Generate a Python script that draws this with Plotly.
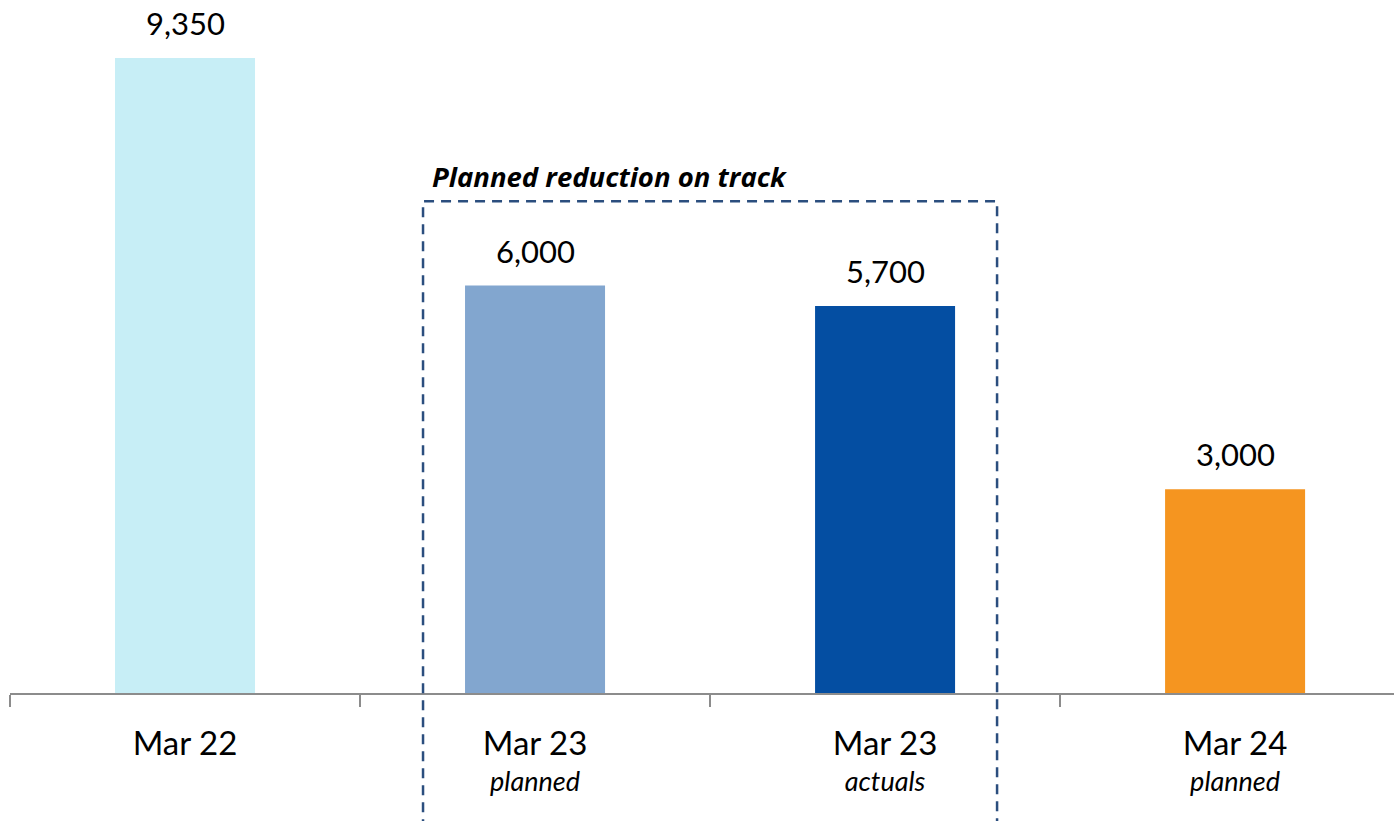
import plotly.graph_objects as go

periods = ["Mar 22", "Mar 23", "Mar 23", "Mar 24"]
notes = ["", "planned", "actuals", "planned"]
values = [9350, 6000, 5700, 3000]
colors = ["#C7EEF6", "#82A6CF", "#044EA2", "#F59520"]
box_label = "Planned reduction on track"

FONT = "Lato"

cats = []
for p, n in zip(periods, notes):
    if n:
        cats.append(f"<span style='font-size:33px'>{p}</span><br><i>{n}</i>")
    else:
        cats.append(f"<span style='font-size:33px'>{p}</span>")

fig = go.Figure()
fig.add_trace(go.Bar(
    x=cats, y=values, marker=dict(color=colors, line=dict(width=0)),
    width=0.4, hoverinfo="skip",
))

for c, v in zip(cats, values):
    fig.add_annotation(
        x=c, y=v, xref="x", yref="y", text=f"{v:,}", showarrow=False,
        yanchor="bottom", yshift=14,
        font=dict(family=FONT, size=31, color="#000000"),
    )

# dashed box around Mar 23 bars
fig.add_shape(
    type="rect", xref="x", yref="paper",
    x0=0.68, x1=2.32, y0=-0.25, y1=0.7095,
    line=dict(color="#2B4E7E", width=2.5, dash="10px,7px"),
    fillcolor="rgba(0,0,0,0)", layer="above",
)
fig.add_annotation(
    x=0.70, y=0.745, xref="x", yref="paper", text=f"<b><i>{box_label}</i></b>",
    showarrow=False, xanchor="left", yanchor="middle",
    font=dict(family="Open Sans", size=27.5, color="#000000"),
)

fig.update_layout(
    width=1394, height=821,
    margin=dict(l=10, r=0, t=0, b=128),
    paper_bgcolor="white", plot_bgcolor="white",
    showlegend=False,
    font=dict(family=FONT, color="#000000"),
    xaxis=dict(
        type="category", range=[-0.5, 3.454],
        showline=True, linecolor="#8C8C8C", linewidth=2,
        ticks="outside", tickson="boundaries", ticklen=12,
        tickcolor="#8C8C8C", tickwidth=2,
        showgrid=False, zeroline=False,
        ticklabelstandoff=28,
        tickfont=dict(family=FONT, size=27, color="#000000"),
        fixedrange=True,
    ),
    yaxis=dict(range=[0, 10204], visible=False, fixedrange=True),
)

fig.write_html(
    "out.html",
    config={"displayModeBar": False},
    post_script="document.body.style.margin='0';document.body.style.overflow='hidden';",
)
